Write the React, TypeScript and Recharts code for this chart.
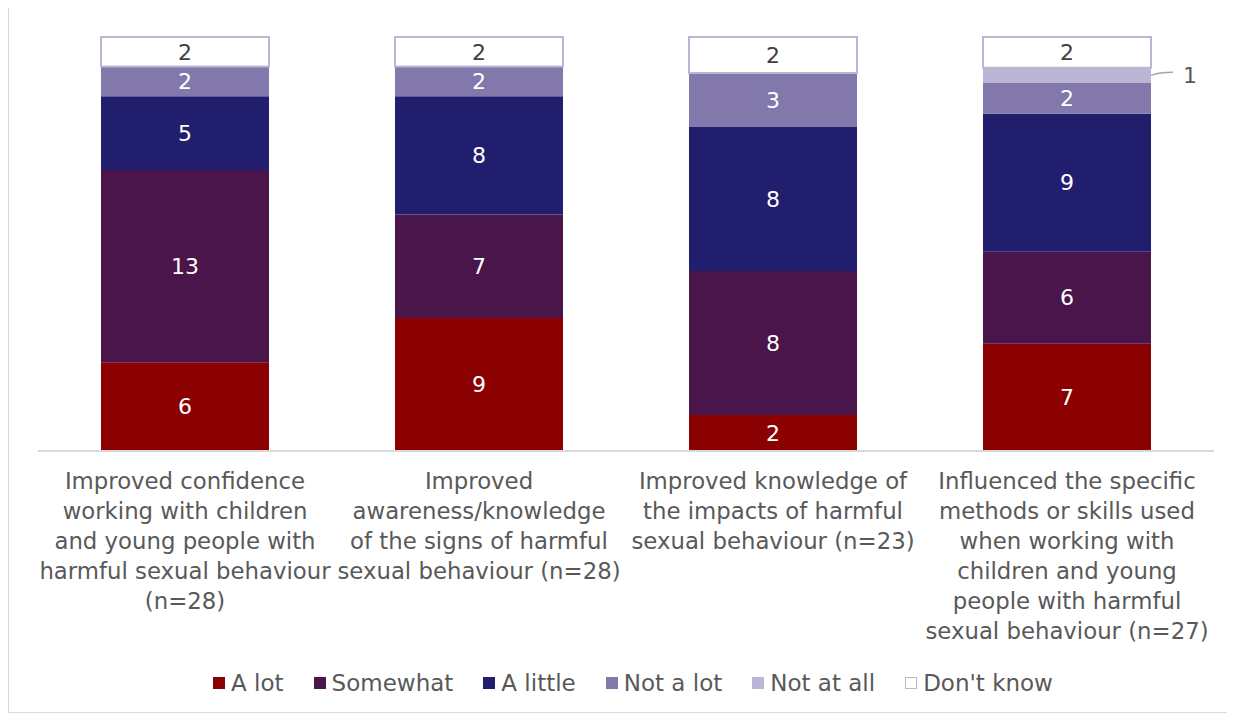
import React from "react";
import { BarChart, Bar, XAxis, YAxis, Legend, LabelList } from "recharts";

// Survey results: counts of responses per outcome, shown as 100% stacked bars
const categories = [
  ["Improved confidence", "working with children", "and young people with", "harmful sexual behaviour", "(n=28)"],
  ["Improved", "awareness/knowledge", "of the signs of harmful", "sexual behaviour (n=28)"],
  ["Improved knowledge of", "the impacts of harmful", "sexual behaviour (n=23)"],
  ["Influenced the specific", "methods or skills used", "when working with", "children and young", "people with harmful", "sexual behaviour (n=27)"],
];

const aLot = [6, 9, 2, 7];
const somewhat = [13, 7, 8, 6];
const aLittle = [5, 8, 8, 9];
const notALot = [2, 2, 3, 2];
const notAtAll = [0, 0, 0, 1];
const dontKnow = [2, 2, 2, 2];

const series = [
  { key: "aLot", name: "A lot", fill: "#8B0000", stroke: "none", label: "#ffffff" },
  { key: "somewhat", name: "Somewhat", fill: "#4A154B", stroke: "none", label: "#ffffff" },
  { key: "aLittle", name: "A little", fill: "#221E6E", stroke: "none", label: "#ffffff" },
  { key: "notALot", name: "Not a lot", fill: "#8278AB", stroke: "none", label: "#ffffff" },
  { key: "notAtAll", name: "Not at all", fill: "#BDB5D6", stroke: "none", label: "#404040" },
  { key: "dontKnow", name: "Don't know", fill: "#ffffff", stroke: "#BDB5D6", label: "#404040" },
];

const data = categories.map((lines, i) => ({
  name: lines.join(" "),
  aLot: aLot[i],
  somewhat: somewhat[i],
  aLittle: aLittle[i],
  notALot: notALot[i],
  notAtAll: notAtAll[i],
  dontKnow: dontKnow[i],
}));

const FONT = "'DejaVu Sans', sans-serif";
const TEXT = "#595959";

const CategoryTick = (props: any) => {
  const { x, y, index } = props;
  const lines = categories[index] || [];
  return (
    <g>
      {lines.map((l, i) => (
        <text key={i} x={x} y={y + 38 + i * 30} textAnchor="middle" fill={TEXT} fontSize={22.8} fontFamily={FONT}>
          {l}
        </text>
      ))}
    </g>
  );
};

const OutsideLabel = (props: any) => {
  const { x, y, width, height, value } = props;
  if (!value) return null;
  const cy = y + height / 2;
  const x0 = x + width;
  return (
    <g>
      <path d={`M${x0},${cy} Q${x0 + 8},${cy - 3} ${x0 + 22},${cy - 3}`} stroke="#a6a6a6" strokeWidth={1.5} fill="none" />
      <text x={x0 + 32} y={cy} dy={8} fill={TEXT} fontSize={22} fontFamily={FONT}>
        {value}
      </text>
    </g>
  );
};

const LegendContent = () => (
  <div style={{ display: "flex", justifyContent: "center", gap: 30, fontFamily: FONT, fontSize: 23, color: TEXT, paddingLeft: 14 }}>
    {series.map((s) => (
      <div key={s.key} style={{ display: "flex", alignItems: "center", gap: 6 }}>
        <span
          style={{
            display: "inline-block",
            width: s.stroke === "none" ? 12 : 10,
            height: s.stroke === "none" ? 12 : 10,
            background: s.fill,
            border: s.stroke === "none" ? "none" : `1.5px solid ${s.stroke}`,
          }}
        />
        <span>{s.name}</span>
      </div>
    ))}
  </div>
);

export default function App() {
  return (
    <div
      style={{
        position: "relative",
        marginTop: -2,
        width: 1227,
        height: 707,
        border: "1px solid #d9d9d9",
        boxSizing: "border-box",
        background: "#fff",
      }}
    >
      <BarChart
        width={1225}
        height={705}
        data={data}
        stackOffset="expand"
        barSize={168}
        margin={{ top: 30, right: 20, left: 29, bottom: 2 }}
      >
        <XAxis
          dataKey="name"
          axisLine={{ stroke: "#d9d9d9", strokeWidth: 2 }}
          tickLine={false}
          tickSize={0}
          tickMargin={0}
          height={219}
          interval={0}
          tick={<CategoryTick />}
        />
        <YAxis hide domain={[0, 1]} />
        <Legend verticalAlign="bottom" height={40} content={<LegendContent />} />
        {series.map((s) => (
          <Bar
            key={s.key}
            dataKey={s.key}
            name={s.name}
            stackId="a"
            fill={s.fill}
            stroke={s.stroke}
            strokeWidth={s.stroke === "none" ? 0 : 2}
            isAnimationActive={false}
          >
            {s.key === "notAtAll" ? (
              <LabelList dataKey={s.key} content={<OutsideLabel />} />
            ) : (
              <LabelList
                dataKey={s.key}
                position="center"
                fill={s.label}
                fontSize={22}
                fontFamily={FONT}
                formatter={(v: any) => (v ? v : "")}
              />
            )}
          </Bar>
        ))}
      </BarChart>
    </div>
  );
}
